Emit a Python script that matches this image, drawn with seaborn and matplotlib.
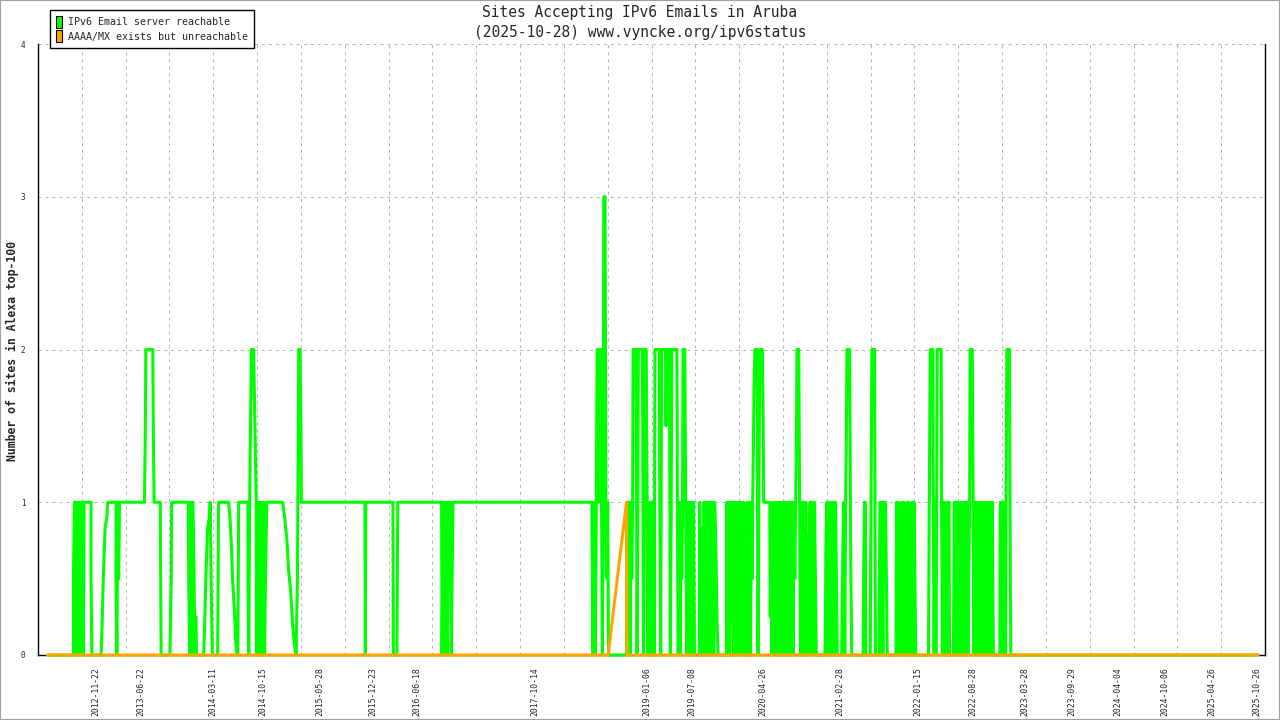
import matplotlib
matplotlib.use("Agg")
import matplotlib.pyplot as plt
from matplotlib.patches import Patch, Rectangle
import pandas as pd
import seaborn as sns

# x axis is the sample number of the daily measurements (not linear in time)
label_idx = [132, 234, 398, 513, 643, 764, 864, 1134, 1389, 1492, 1654, 1830,
             2008, 2134, 2252, 2360, 2465, 2572, 2679, 2782]
label_dates = ['2012-11-22', '2013-06-22', '2014-03-11', '2014-10-15', '2015-05-28',
               '2015-12-23', '2016-06-18', '2017-10-14', '2019-01-06', '2019-07-08',
               '2020-04-26', '2021-02-28', '2022-01-15', '2022-08-28', '2023-03-28',
               '2023-09-29', '2024-04-04', '2024-10-06', '2025-04-26', '2025-10-26']

# (sample, number of sites reachable over IPv6 email)
green_2012_2016 = [
    (22, 0), (81, 0), (81, 0.5), (83, 1), (85, 1), (85, 0), (87, 0), (87, 1), (89, 0.83), (91, 0),
    (93, 0), (93, 1), (95, 0.17), (96, 1), (99, 0), (101, 0), (101, 1), (103, 1), (103, 0), (105, 1),
    (121, 1), (121, 0.5), (123, 0),
    (144, 0), (146, 0.17), (149, 0.5), (151, 0.67), (153, 0.83), (157, 0.9), (159, 1), (178, 1),
    (178, 0.5), (180, 0), (181, 0.5), (183, 1), (184, 0.5), (186, 1),
    (243, 1), (245, 1.5), (246, 2), (262, 2), (263, 1.5), (265, 1), (279, 1), (281, 0),
    (301, 0), (304, 0.5), (305, 1), (343, 1), (344, 0.5), (346, 0), (348, 1), (351, 0), (353, 1),
    (355, 0.75), (358, 0), (360, 0.25), (362, 0),
    (378, 0), (380, 0.17), (383, 0.5), (385, 0.67), (387, 0.83), (391, 0.9), (393, 1), (395, 0.5), (398, 0),
    (410, 0), (411, 0.5), (412, 1), (435, 1), (438, 0.9), (440, 0.8), (442, 0.67), (444, 0.5),
    (447, 0.35), (449, 0.25), (451, 0.1), (454, 0), (456, 0), (457, 0.5), (458, 1),
    (479, 1), (479, 0.5), (481, 0), (483, 1), (485, 1.5), (487, 2), (492, 2), (495, 1.5), (498, 1),
    (499, 0), (501, 1), (504, 0), (506, 1), (508, 0), (510, 1), (513, 0), (515, 1), (517, 0),
    (519, 0.5), (522, 1),
    (558, 1), (563, 0.9), (568, 0.75), (572, 0.55), (577, 0.4), (581, 0.2), (586, 0.05), (589, 0),
    (592, 0.5), (594, 1.5), (595, 2), (598, 2), (600, 1.5), (601, 1),
    (746, 1), (747, 0), (748, 1), (810, 1), (811, 0), (819, 0), (821, 1),
    (921, 1), (922, 0), (925, 1), (927, 0.5), (929, 0), (931, 1), (934, 0), (936, 1), (938, 0.5),
    (941, 1), (943, 0), (947, 1),
]

green_2018 = [
    (1264, 1), (1265, 0.5), (1266, 0), (1268, 0.5), (1269, 1), (1270, 0.5), (1272, 0), (1274, 1),
    (1276, 2), (1279, 2), (1280, 1), (1281, 2), (1285, 2), (1286, 1), (1288, 0), (1290, 1),
    (1291, 3), (1294, 3), (1296, 1), (1298, 0.5), (1300, 1), (1302, 0), (1343, 0),
]

green_2019 = [
    (1344, 1), (1346, 1), (1347, 0.5), (1349, 1), (1351, 0), (1353, 1), (1355, 0.5), (1357, 1),
    (1358, 2), (1365, 2), (1366, 1), (1367, 0), (1369, 1), (1370, 2), (1379, 2), (1380, 1.5),
    (1381, 0.5), (1382, 0), (1383, 1), (1384, 2), (1388, 2), (1389, 1.5), (1390, 1), (1391, 0),
    (1396, 0), (1397, 1), (1398, 0.5), (1399, 0), (1401, 1), (1403, 0), (1405, 1), (1406, 0),
    (1408, 2), (1418, 2), (1419, 1), (1421, 0), (1423, 2), (1432, 2), (1433, 1.5), (1435, 2),
    (1441, 2), (1442, 1), (1443, 0), (1445, 1), (1446, 2), (1458, 2), (1459, 1), (1461, 0),
    (1463, 1), (1465, 0), (1467, 1), (1469, 0.5), (1471, 1), (1472, 2), (1476, 2), (1477, 1.5),
    (1478, 1), (1480, 0), (1482, 1), (1484, 0), (1486, 1), (1488, 0.5), (1490, 0), (1492, 1),
    (1494, 0), (1496, 1), (1498, 0), (1509, 0), (1510, 1), (1512, 0.5), (1514, 0), (1516, 0.83),
    (1518, 0), (1520, 1), (1522, 0.5), (1524, 0), (1526, 1), (1528, 0.17), (1530, 1), (1532, 0),
    (1534, 1), (1536, 0.5), (1538, 0), (1540, 1), (1542, 0), (1544, 1), (1546, 0.83), (1548, 0.5),
    (1550, 0.17), (1552, 0), (1556, 0),
]

green_2020_2021 = [
    (1571, 0), (1572, 1), (1574, 0), (1576, 1), (1578, 0), (1580, 1), (1582, 0.5), (1584, 1),
    (1586, 0), (1589, 0), (1590, 1), (1592, 0), (1594, 1), (1596, 0.5), (1598, 0), (1600, 1),
    (1602, 0), (1604, 1), (1606, 0.5), (1608, 0), (1610, 1), (1612, 0), (1617, 0), (1618, 1),
    (1620, 0.5), (1622, 0), (1624, 1), (1626, 0), (1628, 1), (1630, 0.5), (1631, 1), (1632, 1.25),
    (1634, 1.75), (1636, 2), (1641, 2), (1642, 1), (1643, 0), (1645, 1), (1647, 2), (1653, 2),
    (1655, 1.5), (1656, 1), (1670, 1), (1671, 0.25), (1673, 0.75), (1675, 0), (1677, 1), (1679, 0),
    (1681, 1), (1683, 0.5), (1685, 0), (1687, 1), (1689, 0.75), (1691, 0), (1693, 1), (1695, 0),
    (1697, 1), (1699, 0.5), (1701, 0), (1703, 1), (1705, 0), (1707, 1), (1709, 0.5), (1711, 0),
    (1713, 1), (1715, 0), (1717, 1), (1719, 0), (1721, 1), (1723, 0), (1725, 1), (1727, 0.5),
    (1729, 1), (1731, 1.5), (1732, 2), (1736, 2), (1737, 1.5), (1738, 1), (1740, 0), (1742, 1),
    (1744, 0.5), (1746, 0), (1748, 1), (1750, 0), (1752, 1), (1754, 0.5), (1756, 0), (1758, 0.25),
    (1760, 0.75), (1762, 1), (1764, 0), (1766, 1), (1768, 0.5), (1770, 0), (1772, 1), (1774, 0.5),
    (1776, 0), (1796, 0), (1797, 0.25), (1798, 0.75), (1800, 1), (1802, 0), (1804, 1), (1806, 0.5),
    (1808, 0), (1810, 1), (1812, 0), (1814, 1), (1816, 0.5), (1818, 0), (1820, 1), (1822, 0.5),
    (1824, 0), (1834, 0), (1835, 0.25), (1837, 0.75), (1839, 1), (1841, 0), (1843, 1), (1845, 1.5),
    (1846, 2), (1852, 2), (1853, 1.5), (1854, 1), (1855, 0.5), (1857, 0), (1883, 0), (1884, 0.5),
    (1886, 1), (1888, 1), (1889, 0), (1899, 0), (1900, 0.5), (1902, 1.5), (1903, 2), (1909, 2),
    (1910, 1), (1911, 0),
]

green_2021_2022 = [
    (1919, 0), (1920, 0.5), (1922, 1), (1924, 0), (1926, 1), (1928, 0), (1930, 1), (1932, 0.5),
    (1934, 1), (1936, 0.5), (1938, 0), (1958, 0), (1959, 1), (1961, 0), (1963, 1), (1965, 0.75),
    (1967, 0), (1969, 0.75), (1971, 1), (1973, 0), (1975, 1), (1976, 0), (1982, 0), (1983, 1),
    (1985, 0), (1987, 1), (1989, 0.25), (1991, 0), (1993, 0.75), (1995, 1), (1997, 0), (1999, 1),
    (2001, 0.5), (2003, 0), (2032, 0), (2033, 0.5), (2035, 1.5), (2036, 2), (2042, 2), (2043, 1),
    (2045, 0), (2047, 1), (2049, 0), (2051, 1), (2052, 2), (2061, 2), (2062, 1), (2064, 0),
    (2066, 1), (2067, 0), (2070, 0), (2071, 0.5), (2073, 1), (2075, 0), (2077, 1), (2079, 1),
    (2080, 0), (2089, 0), (2090, 0.5), (2091, 1), (2093, 0), (2095, 1), (2097, 0.5), (2099, 0),
    (2101, 1), (2103, 0), (2105, 1), (2107, 0), (2109, 1), (2111, 0.5), (2113, 0), (2115, 1),
    (2117, 0), (2119, 1), (2120, 0), (2123, 0), (2124, 0.5), (2126, 1), (2127, 2), (2132, 2),
    (2133, 1.5), (2134, 1), (2136, 0), (2138, 1), (2140, 0), (2142, 1), (2144, 0.5), (2146, 0),
    (2148, 1), (2150, 0), (2152, 1), (2154, 0.5), (2156, 0), (2158, 1), (2160, 0), (2162, 1),
    (2164, 0.5), (2166, 0), (2168, 1), (2170, 0), (2172, 1), (2174, 0.5), (2176, 0), (2178, 1),
    (2180, 0), (2195, 0), (2196, 1), (2200, 1), (2201, 0), (2203, 1), (2204, 0), (2208, 0),
    (2209, 1), (2211, 2), (2217, 2), (2218, 1), (2219, 0.5), (2220, 0), (2784, 0),
]

# (sample, sites with AAAA/MX but unreachable)
orange_points = [(22, 0), (1301, 0), (1343, 1), (1344, 0), (2784, 0)]

green = pd.DataFrame(green_2012_2016 + green_2018 + green_2019 + green_2020_2021 + green_2021_2022,
                     columns=['sample', 'sites'])
orange = pd.DataFrame(orange_points, columns=['sample', 'sites'])

GREEN = '#00ff00'
ORANGE = '#ffa500'

sns.set_style('white')
plt.rcParams['font.family'] = ['DejaVu Sans Mono']

fig = plt.figure(figsize=(12.8, 7.2), dpi=100)
ax = fig.add_axes([38 / 1280, 65 / 720, 1227 / 1280, 611 / 720])

sns.lineplot(data=green, x='sample', y='sites', estimator=None, sort=False,
             color=GREEN, linewidth=2.2, ax=ax, clip_on=False, zorder=3)
sns.lineplot(data=orange, x='sample', y='sites', estimator=None, sort=False,
             color=ORANGE, linewidth=2.2, ax=ax, clip_on=False, zorder=4)

ax.set_xlim(0, 2800)
ax.set_ylim(0, 4)
ax.set_xlabel('')
ax.set_ylabel('')

ax.set_xticks(range(0, 2801, 100))
ax.set_xticklabels([])
ax.set_xticks(label_idx, label_dates, minor=True)
ax.tick_params(axis='x', which='major', direction='inout', length=10, width=1, color='black')
ax.tick_params(axis='x', which='minor', length=0, rotation=90, labelsize=5.9, pad=8.5)
ax.set_yticks(range(5))
ax.tick_params(axis='y', direction='inout', length=10, width=1, color='black',
               labelsize=5.5, pad=4)

ax.grid(True, which='major', color='#b8b8b8', linestyle=(0, (2.9, 3.8)), linewidth=0.75)
ax.set_axisbelow(True)

ax.spines['top'].set_visible(False)
for side in ['left', 'right', 'bottom']:
    ax.spines[side].set_color('black')
    ax.spines[side].set_linewidth(1)

handles = [Patch(facecolor=GREEN, edgecolor='black', linewidth=0.8, label='IPv6 Email server reachable'),
           Patch(facecolor=ORANGE, edgecolor='black', linewidth=0.8, label='AAAA/MX exists but unreachable')]
leg = fig.legend(handles=handles, loc='upper left', bbox_to_anchor=(50 / 1280, 1 - 10 / 720),
                 frameon=True, fancybox=False, edgecolor='black', framealpha=1, fontsize=7.2,
                 handlelength=0.6, handleheight=1.5, handletextpad=0.6, borderpad=0.6,
                 labelspacing=0.2, borderaxespad=0)
leg.get_frame().set_linewidth(1)

fig.text(0.5, 1 - 13 / 720, 'Sites Accepting IPv6 Emails in Aruba',
         ha='center', va='center', fontsize=10.5)
fig.text(0.5, 1 - 32 / 720, '(2025-10-28) www.vyncke.org/ipv6status',
         ha='center', va='center', fontsize=10.5)
fig.text(12 / 1280, 1 - 351 / 720, 'Number of sites in Alexa top-100', rotation=90,
         ha='center', va='center', fontsize=8.3, fontweight='bold')

fig.patches.append(Rectangle((0, 0), 1, 1, transform=fig.transFigure, fill=False,
                             edgecolor='#a0a0a0', linewidth=1.5))

fig.savefig('out.png', dpi=100)
plt.close(fig)
